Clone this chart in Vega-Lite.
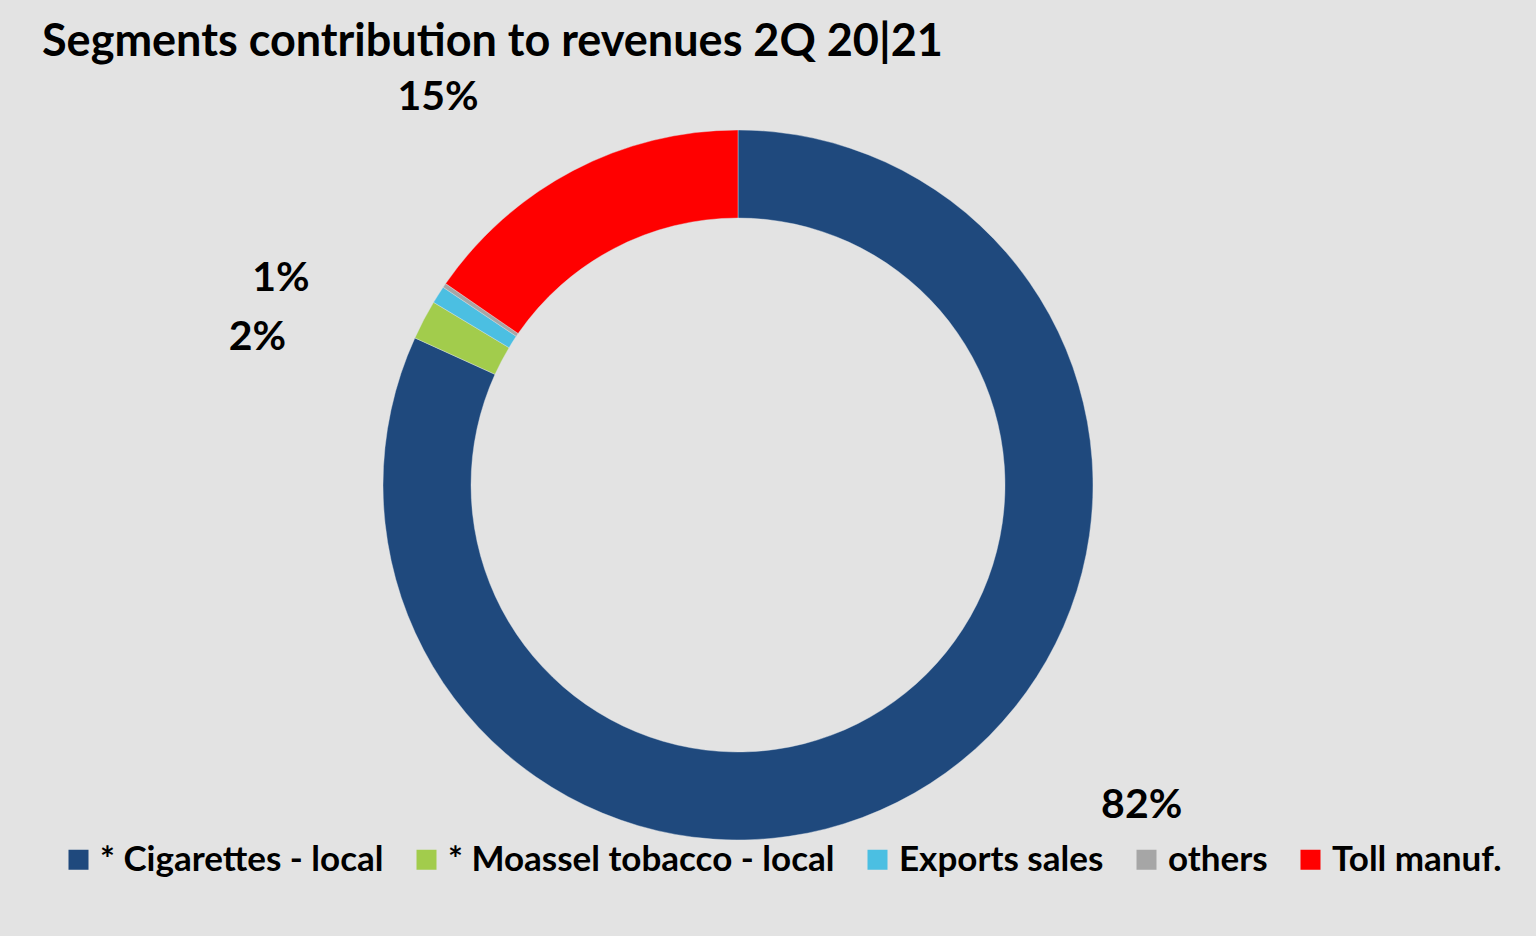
{
  "$schema": "https://vega.github.io/schema/vega-lite/v6.json",
  "width": 1476,
  "height": 810,
  "autosize": {"type": "none"},
  "padding": {"left": 0, "top": 80, "right": 60, "bottom": 46},
  "background": "#e3e3e3",
  "title": {
    "text": "Segments contribution to revenues 2Q 20|21",
    "anchor": "start",
    "frame": "group",
    "dx": 42,
    "dy": 39,
    "offset": 16,
    "font": "Lato",
    "fontSize": 45,
    "fontWeight": "bold",
    "color": "#000000"
  },
  "config": {"view": {"stroke": null}},
  "data": {
    "values": [
      {"segment": "* Cigarettes - local", "share": 81.8, "label": "82%", "rank": 1},
      {"segment": "* Moassel tobacco - local", "share": 1.8, "label": "2%", "rank": 2},
      {"segment": "Exports sales", "share": 0.8, "label": "1%", "rank": 3},
      {"segment": "others", "share": 0.2, "label": "", "rank": 4},
      {"segment": "Toll manuf.", "share": 15.4, "label": "15%", "rank": 5}
    ]
  },
  "layer": [
    {
      "mark": {"type": "arc", "innerRadius": 267, "outerRadius": 355, "stroke": "#dfe3e8", "strokeWidth": 0.4},
      "encoding": {
        "theta": {"field": "share", "type": "quantitative", "stack": true},
        "order": {"field": "rank", "type": "quantitative"},
        "color": {
          "field": "segment",
          "type": "nominal",
          "sort": ["* Cigarettes - local", "* Moassel tobacco - local", "Exports sales", "others", "Toll manuf."],
          "scale": {
            "domain": ["* Cigarettes - local", "* Moassel tobacco - local", "Exports sales", "others", "Toll manuf."],
            "range": ["#1f497d", "#a2cc4c", "#4bbfe2", "#a6a6a6", "#ff0000"]
          },
          "legend": {
            "orient": "none",
            "legendX": 61,
            "legendY": 762,
            "padding": 0,
            "direction": "horizontal",
            "columns": 5,
            "title": null,
            "labelFont": "Lato",
            "labelFontSize": 35,
            "labelFontWeight": "bold",
            "labelColor": "#000000",
            "labelLimit": 800,
            "labelOffset": 4,
            "columnPadding": 25,
            "symbolType": "square",
            "symbolSize": 400,
            "symbolStrokeWidth": 0
          }
        }
      }
    },
    {
      "mark": {"type": "text", "radius": 430, "dx": -100, "dy": -6, "font": "Lato", "fontSize": 41, "fontWeight": "bold", "align": "center", "baseline": "middle", "color": "#000000"},
      "encoding": {
        "theta": {"field": "share", "type": "quantitative", "stack": true},
        "order": {"field": "rank", "type": "quantitative"},
        "text": {"condition": {"test": "datum.segment === 'Toll manuf.'", "field": "label", "type": "nominal"}, "value": ""}
      }
    },
    {
      "mark": {"type": "text", "radius": 430, "dx": 171, "dy": -41, "font": "Lato", "fontSize": 41, "fontWeight": "bold", "align": "center", "baseline": "middle", "color": "#000000"},
      "encoding": {
        "theta": {"field": "share", "type": "quantitative", "stack": true},
        "order": {"field": "rank", "type": "quantitative"},
        "text": {"condition": {"test": "datum.segment === '* Cigarettes - local'", "field": "label", "type": "nominal"}, "value": ""}
      }
    },
    {
      "mark": {"type": "text", "radius": 430, "dx": -100, "dy": 53, "font": "Lato", "fontSize": 41, "fontWeight": "bold", "align": "center", "baseline": "middle", "color": "#000000"},
      "encoding": {
        "theta": {"field": "share", "type": "quantitative", "stack": true},
        "order": {"field": "rank", "type": "quantitative"},
        "text": {"condition": {"test": "datum.segment === '* Moassel tobacco - local'", "field": "label", "type": "nominal"}, "value": ""}
      }
    },
    {
      "mark": {"type": "text", "radius": 430, "dx": -94, "dy": 24, "font": "Lato", "fontSize": 41, "fontWeight": "bold", "align": "center", "baseline": "middle", "color": "#000000"},
      "encoding": {
        "theta": {"field": "share", "type": "quantitative", "stack": true},
        "order": {"field": "rank", "type": "quantitative"},
        "text": {"condition": {"test": "datum.segment === 'Exports sales'", "field": "label", "type": "nominal"}, "value": ""}
      }
    }
  ]
}
